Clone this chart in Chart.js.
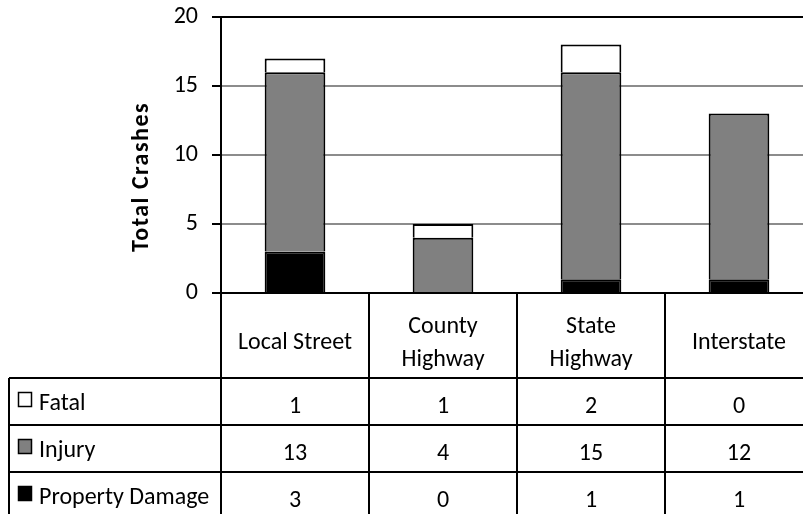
<!DOCTYPE html>
<html><head><meta charset="utf-8">
<script src="https://cdn.jsdelivr.net/npm/chart.js@4"></script>
<style>
html,body{margin:0;padding:0;overflow:hidden;background:#fff;}
#wrap{width:814px;height:520px;position:relative;}
</style></head><body>
<div id="wrap"><canvas id="c" width="814" height="520"></canvas></div>
<script>
const categories = [['Local Street'], ['County','Highway'], ['State','Highway'], ['Interstate']];
const seriesNames = ['Fatal', 'Injury', 'Property Damage'];
const fatal = [1, 1, 2, 0];
const injury = [13, 4, 15, 12];
const propertyDamage = [3, 0, 1, 1];
const yTicks = [0, 5, 10, 15, 20];
const yTitle = 'Total Crashes';

const FONT = "Carlito, Lato, 'Open Sans', sans-serif";
const FS = 24;
const fills = {'Fatal':'#ffffff','Injury':'#808080','Property Damage':'#000000'};
const tableRows = [
  {name:'Fatal', values: fatal},
  {name:'Injury', values: injury},
  {name:'Property Damage', values: propertyDamage}
];

const tablePlugin = {
  id:'dataTable',
  afterDraw(chart){
    const ctx = chart.ctx, xs = chart.scales.x, area = chart.chartArea;
    const n = categories.length;
    const colW = (area.right - area.left) / n;
    const top = area.bottom;
    const headerBottom = top + 85;
    const rowH = 47;
    const bottom = headerBottom + rowH * tableRows.length;
    const tableLeft = 9;
    ctx.save();
    ctx.strokeStyle = '#000';
    ctx.lineWidth = 2;
    ctx.beginPath();
    ctx.moveTo(area.left, top); ctx.lineTo(area.left, bottom);
    for (let i = 0; i < n; i++) {
      const xr = Math.round(xs.getPixelForValue(i) + colW / 2);
      ctx.moveTo(xr, top); ctx.lineTo(xr, bottom);
    }
    for (let r = 0; r <= tableRows.length; r++) {
      const y = headerBottom + r * rowH;
      ctx.moveTo(tableLeft, y); ctx.lineTo(area.right + 2, y);
    }
    ctx.moveTo(tableLeft, headerBottom); ctx.lineTo(tableLeft, bottom);
    ctx.stroke();

    ctx.fillStyle = '#000';
    ctx.font = FS + 'px ' + FONT;
    ctx.textAlign = 'center';
    ctx.textBaseline = 'alphabetic';
    categories.forEach((lines, i) => {
      const cx = xs.getPixelForValue(i);
      const lh = 33;
      lines.forEach((t, k) => {
        const by = top + 56 - (lines.length - 1) * lh / 2 + k * lh;
        ctx.fillText(t, cx, by);
      });
    });
    tableRows.forEach((row, r) => {
      const rt = headerBottom + r * rowH;
      ctx.textAlign = 'center';
      ctx.fillStyle = '#000';
      row.values.forEach((v, i) => {
        ctx.fillText(String(v), xs.getPixelForValue(i), rt + 35);
      });
      ctx.fillStyle = fills[row.name];
      ctx.fillRect(18.5, rt + 14.5, 13, 14);
      ctx.lineWidth = 1.5;
      ctx.strokeRect(18.5, rt + 14.5, 13, 14);
      ctx.fillStyle = '#000';
      ctx.textAlign = 'left';
      ctx.fillText(row.name, 39, rt + 32);
    });
    ctx.save();
    ctx.translate(148, 177);
    ctx.rotate(-Math.PI / 2);
    ctx.font = 'bold ' + FS + 'px ' + FONT;
    try { ctx.letterSpacing = '1.5px'; } catch (e) {}
    ctx.textAlign = 'center';
    ctx.textBaseline = 'alphabetic';
    ctx.fillText(yTitle, 0, 0);
    ctx.restore();
    ctx.restore();
  }
};

const barOpts = {borderColor:'#000', borderWidth:2, borderSkipped:'start', barPercentage:0.41, categoryPercentage:1};

new Chart(document.getElementById('c'), {
  type:'bar',
  data:{
    labels: categories.map(c => c.join(' ')),
    datasets:[
      Object.assign({label:'Property Damage', data: propertyDamage, backgroundColor: fills['Property Damage']}, barOpts),
      Object.assign({label:'Injury', data: injury, backgroundColor: fills['Injury']}, barOpts),
      Object.assign({label:'Fatal', data: fatal, backgroundColor: fills['Fatal']}, barOpts)
    ]
  },
  options:{
    responsive:false,
    animation:false,
    devicePixelRatio:1,
    layout:{padding:{top:17, right:1, bottom:227, left:0}},
    plugins:{legend:{display:false}, tooltip:{enabled:false}},
    scales:{
      x:{
        stacked:true,
        grid:{display:false},
        border:{display:true, color:'#000', width:2},
        ticks:{display:false},
        afterFit(s){ s.height = 0; }
      },
      y:{
        stacked:true, min:0, max:20,
        afterBuildTicks(s){ s.ticks = yTicks.map(v => ({value:v})); },
        ticks:{font:{family:FONT, size:FS}, color:'#000', padding:14},
        grid:{
          color: c => (c.tick && (c.tick.value === 20 || c.tick.value === 0)) ? '#000' : '#8c8c8c',
          lineWidth:2, tickLength:9, tickColor:'#000'
        },
        border:{color:'#000', width:2},
        afterFit(s){ s.width = 221; s.paddingTop = 0; s.paddingBottom = 0; }
      }
    }
  },
  plugins:[tablePlugin]
});
</script>
</body></html>
